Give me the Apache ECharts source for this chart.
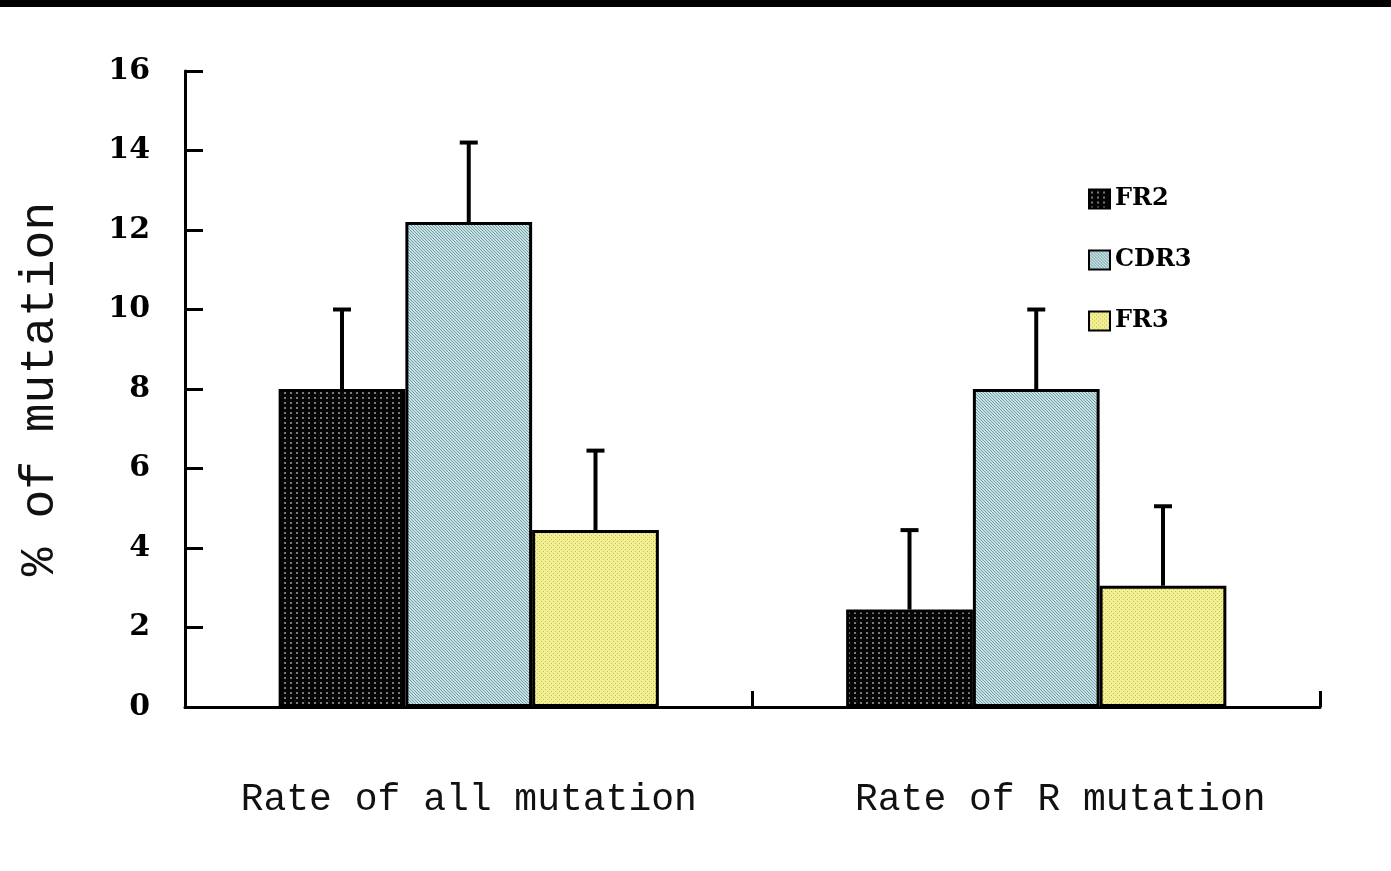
<!DOCTYPE html>
<html><head><meta charset="utf-8">
<script src="https://cdn.jsdelivr.net/npm/echarts@6/dist/echarts.min.js"></script>
<style>html,body{margin:0;padding:0;background:#fff}#c{width:1391px;height:871px}</style>
</head><body><div id="c"></div>
<script>
var categories = ['Rate of all mutation', 'Rate of R mutation'];
var seriesNames = ['FR2', 'CDR3', 'FR3'];
var fr2 = [8.0, 2.45];
var cdr3 = [12.2, 8.0];
var fr3 = [4.45, 3.05];
var fr2Err = [10.0, 4.45];
var cdr3Err = [14.2, 10.0];
var fr3Err = [6.45, 5.05];
var yTicks = [0, 2, 4, 6, 8, 10, 12, 14, 16];

function pattern(w, h, draw) {
  var c = document.createElement('canvas');
  c.width = w; c.height = h;
  draw(c.getContext('2d'));
  return { image: c, repeat: 'repeat' };
}
var blackPat = pattern(6, 5, function (g) {
  g.fillStyle = '#050505'; g.fillRect(0, 0, 6, 5);
  g.fillStyle = '#7a7a7a'; g.fillRect(2, 2, 2, 2);
});
var bluePat = pattern(6, 6, function (g) {
  g.fillStyle = '#c2e4e8'; g.fillRect(0, 0, 6, 6);
  g.strokeStyle = '#7d9a9d'; g.lineWidth = 1;
  for (var k = -6; k <= 12; k += 3) {
    g.beginPath(); g.moveTo(k, 0); g.lineTo(k + 6, 6); g.stroke();
  }
});
var yellowPat = pattern(4, 4, function (g) {
  g.fillStyle = '#f3f090'; g.fillRect(0, 0, 4, 4);
  g.fillStyle = '#bdba70'; g.fillRect(1, 1, 1, 1); g.fillRect(3, 3, 1, 1);
});
var pats = [blackPat, bluePat, yellowPat];
var vals = [fr2, cdr3, fr3];
var errs = [fr2Err, cdr3Err, fr3Err];

var errData = [];
for (var s = 0; s < 3; s++) for (var i = 0; i < categories.length; i++) errData.push([i, s, vals[s][i], errs[s][i]]);

var catItems = categories.map(function (c, i) {
  return i === 1 ? { value: c, textStyle: { padding: [0, 0, 0, 48] } } : c;
});

var gapRatio = 0.33;
var chart = echarts.init(document.getElementById('c'));
var series = seriesNames.map(function (n, s) {
  return {
    name: n, type: 'bar', data: vals[s], barGap: '0%', barCategoryGap: (gapRatio * 100) + '%',
    itemStyle: { color: pats[s], borderColor: '#000', borderWidth: 3 },
    z: 2
  };
});
series.push({
  type: 'custom', name: 'err', data: errData, z: 3,
  encode: { x: 0, y: 3 },
  renderItem: function (params, api) {
    var cat = api.value(0), s = api.value(1);
    var catW = api.size([1, 0])[0];
    var bw = catW * (1 - gapRatio) / 3;
    var base = api.coord([cat, api.value(2)]);
    var top = api.coord([cat, api.value(3)]);
    var x = base[0] + (s - 1) * bw;
    var st = { stroke: '#000', lineWidth: 4 };
    return { type: 'group', children: [
      { type: 'line', shape: { x1: x, y1: base[1], x2: x, y2: top[1] }, style: st },
      { type: 'line', shape: { x1: x - 9, y1: top[1], x2: x + 9, y2: top[1] }, style: st }
    ] };
  }
});

chart.setOption({
  animation: false,
  backgroundColor: '#fff',
  graphic: [{ type: 'rect', shape: { x: 0, y: 0, width: 1391, height: 7 }, style: { fill: '#000' } }],
  legend: {
    data: seriesNames, orient: 'vertical', left: 1083, top: 182, icon: 'rect',
    itemWidth: 21, itemHeight: 19, itemGap: 37,
    textStyle: { fontFamily: 'DejaVu Serif', fontWeight: 'bold', fontSize: 24, color: '#000' },
    itemStyle: { borderColor: '#000', borderWidth: 2 }
  },
  grid: { left: 185, right: 71, top: 71, bottom: 164 },
  xAxis: {
    type: 'category', data: catItems,
    axisLine: { lineStyle: { color: '#000', width: 3 } },
    axisTick: { show: true, inside: true, length: 16, interval: 0, lineStyle: { color: '#000', width: 3 } },
    axisLabel: { interval: 0, margin: 74, fontFamily: 'Liberation Mono', fontSize: 38, color: '#111' }
  },
  yAxis: {
    type: 'value', min: 0, max: 16, interval: 2,
    name: '% of mutation', nameLocation: 'middle', nameGap: 121, nameRotate: 90,
    nameTextStyle: { fontFamily: 'Liberation Mono', fontSize: 48, color: '#111' },
    splitLine: { show: false },
    axisLine: { show: true, lineStyle: { color: '#000', width: 3 } },
    axisTick: { show: true, inside: true, length: 18, lineStyle: { color: '#000', width: 3 } },
    axisLabel: {
      margin: 35, fontFamily: 'DejaVu Serif', fontWeight: 'bold', fontSize: 30, color: '#000',
      formatter: function (v) { return yTicks.indexOf(v) >= 0 ? String(v) : ''; }
    }
  },
  series: series
});
</script></body></html>
